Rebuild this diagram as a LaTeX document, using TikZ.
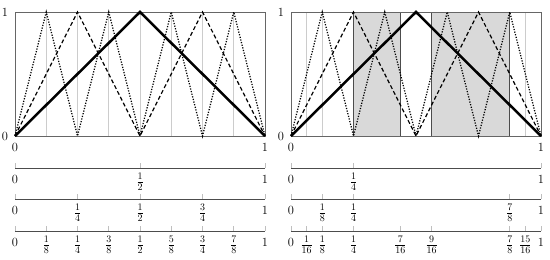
\documentclass[tikz,border=0pt]{standalone}
\usetikzlibrary{calc}
\begin{document}
\begin{tikzpicture}[x=1pt,y=-1pt,
  frame/.style={draw=black!60,line width=0.9pt},
  grid/.style={draw=black!20,line width=0.6pt},
  sep/.style={draw=black!70,line width=0.7pt},
  hat/.style={line width=2.5pt,line join=miter},
  half/.style={line width=1.2pt,dash pattern=on 4pt off 2.5pt},
  quart/.style={line width=1.25pt,dash pattern=on 1.2pt off 1.5pt},
  nline/.style={draw=black!70,line width=0.9pt},
  ntick/.style={draw=black!25,line width=0.6pt},
  lab/.style={font=\fontsize{12.5}{14}\selectfont,inner sep=0pt},
  flab/.style={font=\fontsize{14}{16}\selectfont,inner sep=0pt,anchor=north}]
\useasboundingbox (0,0) rectangle (550,260);
% ---------- left panel ----------
\begin{scope}[shift={(15,0)}]
  \foreach \k in {1,...,7} \draw[grid] ({\k*31.25},12) -- ({\k*31.25},136);
  \draw[frame] (0,12) rectangle (250,136);
  \draw[quart] (0,136) -- (31.25,12) -- (62.5,136) -- (93.75,12) -- (125,136) -- (156.25,12) -- (187.5,136) -- (218.75,12) -- (250,136);
  \draw[half] (0,136) -- (62.5,12) -- (125,136) -- (187.5,12) -- (250,136);
  \draw[hat] (0,136) -- (125,12) -- (250,136);
  \node[lab] (ly1) at (-10,12) {1};
  \node[lab] (ly0) at (-10,136) {0};
  \node[lab] (lx0) at (0,147) {0};
  \node[lab] (lx1) at (250,147) {1};
  % number lines
  \foreach \y/\list in {168/{0,0.5,1},199/{0,0.25,0.5,0.75,1},231/{0,0.125,0.25,0.375,0.5,0.625,0.75,0.875,1}} {
    \foreach \p in \list \draw[ntick] ({\p*250},\y-5) -- ({\p*250},\y);
    \draw[nline] (0,\y) -- (250,\y);
  }
  \foreach \y in {179,210,242} {
    \node[lab] at (0,\y) {0};
    \node[lab] at (250,\y) {1};
  }
  \node[flab] at (125,173) {$\frac12$};
  \foreach \p/\t in {62.5/{\frac14},125/{\frac12},187.5/{\frac34}} \node[flab] at (\p,204) {$\t$};
  \foreach \p/\t in {31.25/{\frac18},62.5/{\frac14},93.75/{\frac38},125/{\frac12},156.25/{\frac58},187.5/{\frac34},218.75/{\frac78}} \node[flab] at (\p,236) {$\t$};
\end{scope}
% ---------- right panel ----------
\begin{scope}[shift={(291,0)}]
  \fill[black!15] (62.5,12) rectangle (109.375,136);
  \fill[black!15] (140.625,12) rectangle (218.75,136);
  \foreach \p in {15.625,31.25,234.375} \draw[grid] (\p,12) -- (\p,136);
  \foreach \p in {62.5,109.375,140.625,218.75} \draw[sep] (\p,12) -- (\p,136);
  \draw[frame] (0,12) rectangle (250,136);
  \draw[quart] (0,136) -- (31.25,12) -- (62.5,136) -- (93.75,12) -- (125,136) -- (156.25,12) -- (187.5,136) -- (218.75,12) -- (250,136);
  \draw[half] (0,136) -- (62.5,12) -- (125,136) -- (187.5,12) -- (250,136);
  \draw[hat] (0,136) -- (125,12) -- (250,136);
  \node[lab] (ry1) at (-10,12) {1};
  \node[lab] (ry0) at (-10,136) {0};
  \node[lab] (rx0) at (0,147) {0};
  \node[lab] (rx1) at (250,147) {1};
  \foreach \y/\list in {168/{0,0.25,1},199/{0,0.125,0.25,0.875,1},231/{0,0.0625,0.125,0.25,0.4375,0.5625,0.875,0.9375,1}} {
    \foreach \p in \list \draw[ntick] ({\p*250},\y-5) -- ({\p*250},\y);
    \draw[nline] (0,\y) -- (250,\y);
  }
  \foreach \y in {179,210,242} {
    \node[lab] at (0,\y) {0};
    \node[lab] at (250,\y) {1};
  }
  \node[flab] at (62.5,173) {$\frac14$};
  \foreach \p/\t in {31.25/{\frac18},62.5/{\frac14},218.75/{\frac78}} \node[flab] at (\p,204) {$\t$};
  \foreach \p/\t in {15.625/{\frac1{16}},31.25/{\frac18},62.5/{\frac14},109.375/{\frac7{16}},140.625/{\frac9{16}},218.75/{\frac78},234.375/{\frac{15}{16}}} \node[flab] at (\p,236) {$\t$};
\end{scope}
\end{tikzpicture}
\end{document}
